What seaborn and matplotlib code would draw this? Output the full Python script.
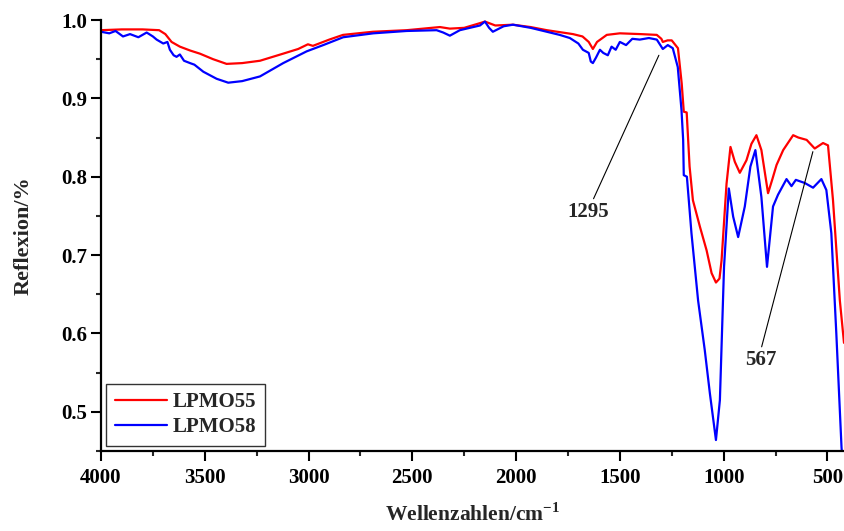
import numpy as np
import pandas as pd
import matplotlib
matplotlib.use("Agg")
import matplotlib.pyplot as plt
from matplotlib.ticker import MultipleLocator
import seaborn as sns

# ---- data ----
red_wn = [4000, 3900, 3800, 3720, 3690, 3660, 3620, 3570, 3523, 3460, 3395, 3320, 3234,
          3123, 3050, 3003, 2979, 2900, 2834, 2690, 2527, 2367, 2319, 2250, 2174, 2150,
          2100, 2015, 1930, 1852, 1726, 1680, 1650, 1630, 1610, 1563, 1500, 1400, 1322,
          1300, 1293, 1270, 1250, 1220, 1202, 1192, 1178, 1164, 1148, 1114, 1082, 1058,
          1037, 1020, 1010, 986, 967, 946, 922, 890, 866, 842, 818, 786, 765, 745, 713,
          665, 640, 600, 561, 521, 497, 473, 440, 420]
red_val = [0.987, 0.988, 0.988, 0.987, 0.982, 0.972, 0.966, 0.961, 0.957, 0.950, 0.944, 0.945, 0.948,
           0.957, 0.963, 0.969, 0.967, 0.975, 0.981, 0.985, 0.987, 0.991, 0.989, 0.990, 0.996, 0.998,
           0.993, 0.994, 0.991, 0.987, 0.982, 0.979, 0.972, 0.963, 0.972, 0.981, 0.983, 0.982, 0.981,
           0.976, 0.972, 0.974, 0.974, 0.964, 0.919, 0.883, 0.882, 0.813, 0.770, 0.736, 0.706, 0.677,
           0.665, 0.670, 0.693, 0.791, 0.838, 0.819, 0.805, 0.821, 0.842, 0.853, 0.834, 0.779, 0.797, 0.815, 0.834,
           0.853, 0.850, 0.847, 0.836, 0.843, 0.840, 0.770, 0.642, 0.588]

blue_wn = [4000, 3960, 3930, 3894, 3860, 3820, 3780, 3750, 3732, 3700, 3680, 3668, 3650, 3636,
           3620, 3600, 3571, 3550, 3507, 3443, 3387, 3320, 3234, 3122, 3009, 2929, 2833, 2688,
           2527, 2383, 2351, 2319, 2271, 2174, 2150, 2130, 2112, 2060, 2015, 1930, 1852, 1790,
           1741, 1700, 1678, 1650, 1640, 1630, 1615, 1596, 1580, 1558, 1540, 1520, 1500, 1470,
           1440, 1404, 1360, 1322, 1293, 1269, 1245, 1221, 1203, 1195, 1192, 1177, 1155, 1123,
           1091, 1066, 1037, 1018, 998, 975, 954, 930, 898, 871, 847, 818, 791, 762, 738, 697,
           673, 652, 609, 569, 529, 505, 481, 457, 432, 425]
blue_val = [0.985, 0.983, 0.986, 0.979, 0.982, 0.978, 0.984, 0.979, 0.975, 0.970, 0.972, 0.962, 0.955, 0.953,
            0.956, 0.948, 0.945, 0.943, 0.934, 0.925, 0.920, 0.922, 0.928, 0.945, 0.960, 0.968, 0.978, 0.983,
            0.986, 0.987, 0.984, 0.980, 0.987, 0.993, 0.998, 0.990, 0.985, 0.992, 0.994, 0.990, 0.985, 0.981,
            0.977, 0.970, 0.962, 0.958, 0.947, 0.945, 0.952, 0.962, 0.958, 0.955, 0.966, 0.962, 0.972, 0.968,
            0.976, 0.975, 0.977, 0.975, 0.963, 0.968, 0.964, 0.940, 0.885, 0.847, 0.802, 0.800, 0.728, 0.642,
            0.579, 0.523, 0.464, 0.515, 0.685, 0.785, 0.749, 0.723, 0.762, 0.813, 0.834, 0.774, 0.685, 0.762, 0.777, 0.797,
            0.788, 0.796, 0.792, 0.786, 0.797, 0.783, 0.728, 0.600, 0.455, 0.430]

series_names = ["LPMO55", "LPMO58"]
series_colors = ["#ff0000", "#0000ff"]
x_ticks = [4000, 3500, 3000, 2500, 2000, 1500, 1000, 500]
y_ticks = [0.5, 0.6, 0.7, 0.8, 0.9, 1.0]

df = pd.concat([
    pd.DataFrame({"wn": red_wn, "R": red_val, "sample": series_names[0]}),
    pd.DataFrame({"wn": blue_wn, "R": blue_val, "sample": series_names[1]}),
], ignore_index=True)

sns.set_theme(style="ticks")
plt.rcParams["font.family"] = ["Liberation Serif", "DejaVu Serif"]
plt.rcParams["font.weight"] = "bold"
plt.rcParams["mathtext.fontset"] = "custom"
plt.rcParams["mathtext.rm"] = "Liberation Serif:bold"
plt.rcParams["mathtext.bf"] = "Liberation Serif:bold"

fig = plt.figure(figsize=(8.45, 5.31), dpi=100)
ax = fig.add_axes([101 / 845, 1 - 451 / 531, 743 / 845, 431 / 531])

sns.lineplot(data=df, x="wn", y="R", hue="sample", palette=series_colors,
             sort=False, estimator=None, linewidth=1.6, ax=ax)

ax.set_xlim(4000, 420)
ax.set_ylim(0.45, 1.0)
ax.set_xticks(x_ticks)
ax.set_yticks(y_ticks)
ax.xaxis.set_minor_locator(MultipleLocator(250))
ax.yaxis.set_minor_locator(MultipleLocator(0.05))
ax.set_yticklabels([f"{v:.1f}" for v in y_ticks])

for s in ["top", "right"]:
    ax.spines[s].set_visible(False)
for s in ["left", "bottom"]:
    ax.spines[s].set_linewidth(1.6)
    ax.spines[s].set_color("black")

ax.tick_params(axis="both", which="major", direction="out", length=7, width=1.5,
               labelsize=15, colors="black")
ax.tick_params(axis="x", which="major", pad=5)
ax.tick_params(axis="y", which="major", pad=3)
ax.tick_params(axis="both", which="minor", direction="out", length=3.5, width=1.5)
for lab in ax.get_xticklabels() + ax.get_yticklabels():
    lab.set_fontweight("bold")

ax.set_xlabel(r"Wellenzahlen/cm$^{\mathbf{-1}}$", fontsize=15.5, fontweight="bold", labelpad=11)
ax.set_ylabel("Reflexion/%", fontsize=16, fontweight="bold", labelpad=20)

ax.annotate("1295", xy=(1312, 0.955), xytext=(1654, 0.755), ha="center", va="center",
            fontsize=15, fontweight="bold",
            arrowprops=dict(arrowstyle="-", color="black", lw=0.8, relpos=(0.6, 1.0),
                            shrinkA=0, shrinkB=0))
ax.annotate("567", xy=(570, 0.832), xytext=(821, 0.566), ha="center", va="center",
            fontsize=15, fontweight="bold",
            arrowprops=dict(arrowstyle="-", color="black", lw=0.8, relpos=(0.5, 1.0),
                            shrinkA=0, shrinkB=0))

leg = ax.legend(loc="lower left", bbox_to_anchor=(0.0, 0.0), borderaxespad=0.25,
                frameon=True, fancybox=False,
                edgecolor="black", fontsize=15, handlelength=2.5, handletextpad=0.3,
                borderpad=0.4, labelspacing=0.25, title=None)
leg.get_frame().set_linewidth(1.0)
for t in leg.get_texts():
    t.set_fontweight("bold")

fig.savefig("out.png", dpi=100)
